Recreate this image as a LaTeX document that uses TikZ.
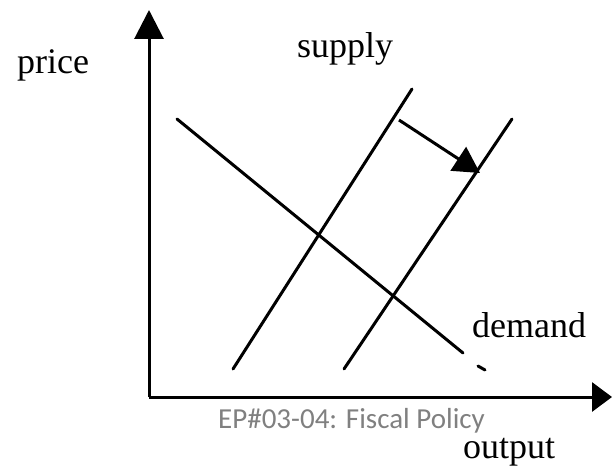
\documentclass[tikz,border=0pt]{standalone}
\usepackage{fontspec}
\setmainfont{Liberation Serif}
\newfontfamily\captionfont{Carlito}
\usetikzlibrary{arrows.meta}

\tikzset{
	curve/.style={line width=3pt, line cap=round},
	axis/.style={line width=3pt},
	lbl/.style={anchor=base west, inner sep=0pt, font=\fontsize{36}{40}\selectfont}
}

\begin{document}
\begin{tikzpicture}[x=1pt, y=-1pt]
			\useasboundingbox (0,0) rectangle (612,468);
			\coordinate (O) at (149,397);
			\coordinate (ytop) at (149,10);
			\coordinate (xtop) at (612,397);
			\coordinate (d1) at (177,119);
			\coordinate (d2) at (463,353);
			\coordinate (d3) at (478,366);
			\coordinate (d4) at (485,370);
			\coordinate (s1a) at (233,369);
			\coordinate (s1b) at (412,89);
			\coordinate (s2a) at (344,369);
			\coordinate (s2b) at (512,119);
			\coordinate (sh1) at (399,120);
			\coordinate (sh2) at (480,173);
			% axes
			\draw[axis, -{Triangle[length=29pt, width=29pt]}] (O) -- (ytop);
			\draw[axis, -{Triangle[length=20pt, width=29pt]}] (O) -- (xtop);
			% demand and the two supply lines
			\draw[curve] (d1) -- (d2);
			\draw[curve] (d3) -- (d4);
			\draw[curve] (s1a) -- (s1b);
			\draw[curve] (s2a) -- (s2b);
			\draw[line width=3pt, -{Triangle[length=26pt, width=28pt]}] (sh1) -- (sh2);
			% labels
			\node[lbl] (price) at (17,74) {price};
			\node[lbl] (supply) at (297,58) {supply};
			\node[lbl] (demand) at (472,337) {demand};
			\node[lbl] (output) at (463,458) {output};
			\node[anchor=base west, inner sep=0pt, text=black!50, font=\captionfont\fontsize{29}{32}\selectfont] (cap) at (218,428) {EP\#03-04: Fiscal Policy};
		\end{tikzpicture}
\end{document}
